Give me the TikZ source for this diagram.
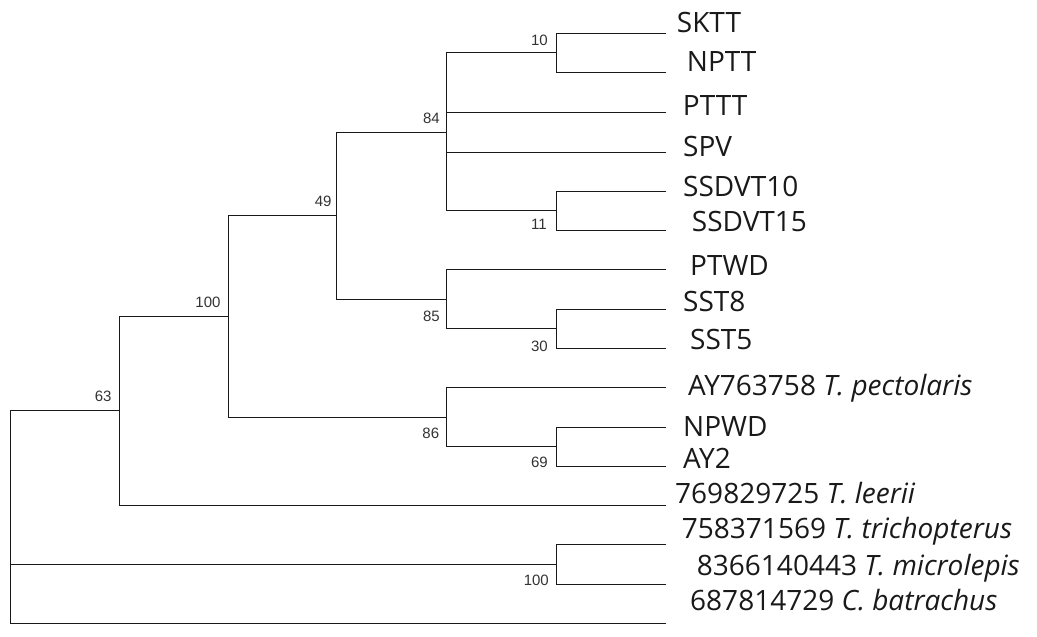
\documentclass[tikz,border=0pt]{standalone}
\usepackage{fontspec}
\setmainfont{Open Sans}
\newfontfamily\bsfont{Liberation Sans}
\begin{document}
\begin{tikzpicture}[x=1pt,y=-1pt,
  branch/.style={draw=black!90, line width=1pt, line cap=rect},
  leaflabel/.style={anchor=base west, inner sep=0pt, font=\fontsize{28}{31}\selectfont, text=black!90},
  boot/.style={anchor=east, inner sep=0pt, font=\bsfont\fontsize{15}{17}\selectfont, text=black!80}]
\useasboundingbox (0,0) rectangle (1037,637);
% tips
\coordinate (tSKTT) at (665,33);
\coordinate (tNPTT) at (665,72.7);
\coordinate (tPTTT) at (665,112.7);
\coordinate (tSPV) at (665,152.3);
\coordinate (tSSDVTa) at (665,191);
\coordinate (tSSDVTb) at (665,230);
\coordinate (tPTWD) at (665,269.3);
\coordinate (tSSTa) at (665,309);
\coordinate (tSSTb) at (665,348.3);
\coordinate (tAY7) at (665,387.7);
\coordinate (tNPWD) at (665,427);
\coordinate (tAY2) at (665,466);
\coordinate (tleer) at (665,505.3);
\coordinate (ttric) at (665,544.5);
\coordinate (tmicr) at (665,584);
\coordinate (tbatr) at (665,623.3);
% internal nodes
\coordinate (n10) at (556,52.85);
\coordinate (n11) at (556,210.5);
\coordinate (n84) at (446,132.1);
\coordinate (n30) at (556,328.65);
\coordinate (n85) at (446,299);
\coordinate (n49) at (336.5,215.5);
\coordinate (n69) at (556,446.5);
\coordinate (n86) at (446,417);
\coordinate (n100) at (228.5,316.3);
\coordinate (n63) at (119,410.8);
\coordinate (n100b) at (556,564.3);
\coordinate (root) at (10.5,564.3);
% branches
\draw[branch] (n10) |- (tSKTT);
\draw[branch] (n10) |- (tNPTT);
\draw[branch] (n11) |- (tSSDVTa);
\draw[branch] (n11) |- (tSSDVTb);
\draw[branch] (n84) |- (n10);
\draw[branch] (n84) |- (tPTTT);
\draw[branch] (n84) |- (tSPV);
\draw[branch] (n84) |- (n11);
\draw[branch] (n30) |- (tSSTa);
\draw[branch] (n30) |- (tSSTb);
\draw[branch] (n85) |- (tPTWD);
\draw[branch] (n85) |- (n30);
\draw[branch] (n49) |- (n84);
\draw[branch] (n49) |- (n85);
\draw[branch] (n69) |- (tNPWD);
\draw[branch] (n69) |- (tAY2);
\draw[branch] (n86) |- (tAY7);
\draw[branch] (n86) |- (n69);
\draw[branch] (n100) |- (n49);
\draw[branch] (n100) |- (n86);
\draw[branch] (n63) |- (n100);
\draw[branch] (n63) |- (tleer);
\draw[branch] (n100b) |- (ttric);
\draw[branch] (n100b) |- (tmicr);
\draw[branch] (root) |- (n63);
\draw[branch] (root) |- (n100b);
\draw[branch] (root) |- (tbatr);
% leaf labels
\node[leaflabel] (lSKTT) at (676.7,32.3) {SKTT};
\node[leaflabel] (lNPTT) at (686.7,71.7) {NPTT};
\node[leaflabel] (lPTTT) at (682.7,115) {PTTT};
\node[leaflabel] (lSPV) at (683,156.7) {SPV};
\node[leaflabel] (lSSDVTa) at (683,196.7) {SSDVT10};
\node[leaflabel] (lSSDVTb) at (691.7,231.7) {SSDVT15};
\node[leaflabel] (lPTWD) at (690,275) {PTWD};
\node[leaflabel] (lSSTa) at (683,311.7) {SST8};
\node[leaflabel] (lSSTb) at (690,349) {SST5};
\node[leaflabel] (lAY7) at (688,395) {AY763758 \textit{T. pectolaris}};
\node[leaflabel] (lNPWD) at (683,436.7) {NPWD};
\node[leaflabel] (lAY2) at (683,468.3) {AY2};
\node[leaflabel] (lleer) at (675,503.3) {769829725 \textit{T. leerii}};
\node[leaflabel] (ltric) at (681.7,538.3) {758371569 \textit{T. trichopterus}};
\node[leaflabel] (lmicr) at (696.7,575) {8366140443 \textit{T. microlepis}};
\node[leaflabel] (lbatr) at (690,610) {687814729 \textit{C. batrachus}};
% bootstrap values
\node[boot] (b10) at (548,40) {10};
\node[boot] (b84) at (440,118) {84};
\node[boot] (b11) at (547,224) {11};
\node[boot] (b49) at (331.7,201.7) {49};
\node[boot] (b85) at (440,316.7) {85};
\node[boot] (b30) at (548,346) {30};
\node[boot] (b100) at (220.7,302) {100};
\node[boot] (b63) at (111.7,396.7) {63};
\node[boot] (b86) at (439.3,433) {86};
\node[boot] (b69) at (548,462.7) {69};
\node[boot] (b100b) at (549,580.7) {100};
\end{tikzpicture}
\end{document}
